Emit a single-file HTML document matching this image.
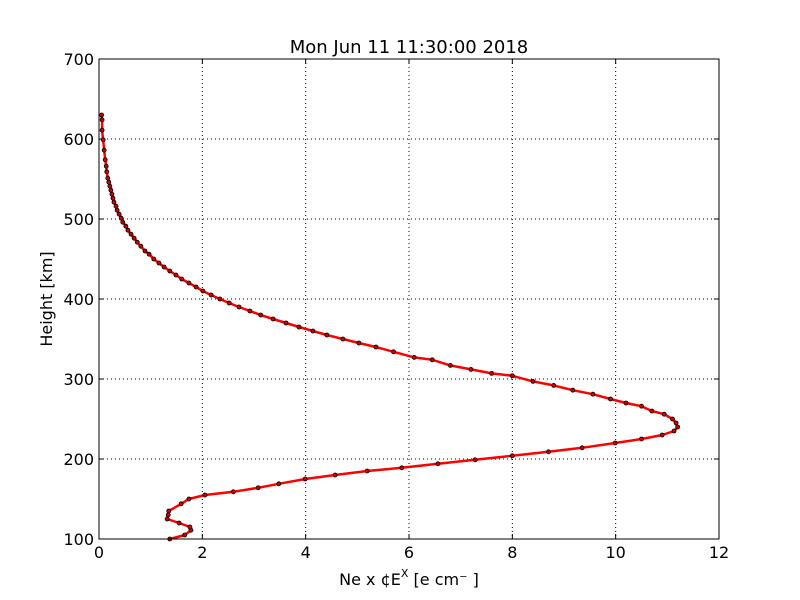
<!DOCTYPE html>
<html><head><meta charset="utf-8"><style>
body{margin:0;background:#fff}
svg{display:block;font-family:"DejaVu Sans","Liberation Sans",sans-serif}
</style></head><body>
<svg id="chart" width="800" height="600" viewBox="0 0 800 600">
<rect width="800" height="600" fill="#fff"/>
<g id="grid"></g>
<g id="ticks"></g>
<g id="series"></g>
<rect x="99" y="59" width="620" height="480" fill="none" stroke="#000" stroke-width="1"/>
<text x="409" y="53" text-anchor="middle" font-size="18">Mon Jun 11 11:30:00 2018</text>
<text x="409" y="585" text-anchor="middle" font-size="16">Ne x ¢E<tspan dy="-8" font-size="11">X</tspan><tspan dy="8">  [e cm⁻ ]</tspan></text>
<text transform="translate(52,299) rotate(-90)" text-anchor="middle" font-size="16">Height [km]</text>
</svg>
<script>
const xTicks=[0,2,4,6,8,10,12];
const yTicks=[100,200,300,400,500,600,700];
const heights=[100,105,111,115,120,125,130,135,144,150,155,159,164,169,175,180,185,189,194,199,204,209,214,220,225,230,235,240,245,250,256,260,266,270,275,281,286,292,297,304,307,312,317,324,327,334,340,345,350,355,360,365,370,375,380,385,390,395,400,405,410,415,420,425,430,435,440,445,450,456,460,466,471,476,481,486,491,496,501,506,511,516,521,526,531,536,541,546,551,559,566,574,586,599,611,624,630];
const density=[1.37,1.66,1.78,1.76,1.55,1.32,1.34,1.35,1.59,1.74,2.05,2.6,3.08,3.48,3.99,4.57,5.19,5.86,6.56,7.28,8.0,8.7,9.35,9.99,10.5,10.9,11.13,11.2,11.17,11.1,10.94,10.7,10.5,10.2,9.9,9.56,9.17,8.8,8.4,8.0,7.6,7.2,6.8,6.45,6.1,5.7,5.36,5.03,4.72,4.41,4.14,3.87,3.62,3.37,3.13,2.92,2.71,2.52,2.34,2.17,2.01,1.88,1.74,1.6,1.49,1.37,1.26,1.16,1.06,0.97,0.89,0.81,0.74,0.68,0.62,0.56,0.52,0.46,0.43,0.39,0.35,0.33,0.29,0.27,0.25,0.23,0.21,0.19,0.17,0.15,0.14,0.12,0.10,0.08,0.06,0.06,0.05];
const NS="http://www.w3.org/2000/svg";
const X0=99,X1=719,Y0=539,Y1=59;
const sx=v=>X0+(v-0)/(12-0)*(X1-X0);
const sy=v=>Y0-(v-100)/(700-100)*(Y0-Y1);
function mk(tag,attrs,parent){const e=document.createElementNS(NS,tag);for(const k in attrs)e.setAttribute(k,attrs[k]);parent.appendChild(e);return e;}
const grid=document.getElementById('grid'),ticks=document.getElementById('ticks'),series=document.getElementById('series');
xTicks.forEach(t=>{
  const x=sx(t);
  const g=mk('line',{x1:x,x2:x,y1:Y1,y2:Y0,stroke:'#000','stroke-dasharray':'1,3','stroke-width':1},grid);
  
  
  mk('line',{x1:x,x2:x,y1:Y0,y2:Y0-5,stroke:'#000'},ticks);
  mk('line',{x1:x,x2:x,y1:Y1,y2:Y1+5,stroke:'#000'},ticks);
  const tx=mk('text',{x:x,y:Y0+19,'text-anchor':'middle','font-size':16},ticks);
  tx.textContent=t;
  
  
});
yTicks.forEach(t=>{
  const y=sy(t);
  const g=mk('line',{x1:X0,x2:X1,y1:y,y2:y,stroke:'#000','stroke-dasharray':'1,3','stroke-width':1},grid);
  
  
  mk('line',{x1:X0,x2:X0+5,y1:y,y2:y,stroke:'#000'},ticks);
  mk('line',{x1:X1,x2:X1-5,y1:y,y2:y,stroke:'#000'},ticks);
  const tx=mk('text',{x:X0-5,y:y+6,'text-anchor':'end','font-size':16},ticks);
  tx.textContent=t;
  
  
});
const pts=heights.map((h,i)=>sx(density[i]).toFixed(1)+','+sy(h).toFixed(1)).join(' ');
const line=mk('polyline',{points:pts,fill:'none',stroke:'#ff0000','stroke-width':2.5,'stroke-linejoin':'round'},series);


heights.forEach((h,i)=>{
  const c=mk('circle',{cx:sx(density[i]),cy:sy(h),r:2,fill:'#d00000',stroke:'#000','stroke-width':0.8},series);
  
  
});
</script>
</body></html>
